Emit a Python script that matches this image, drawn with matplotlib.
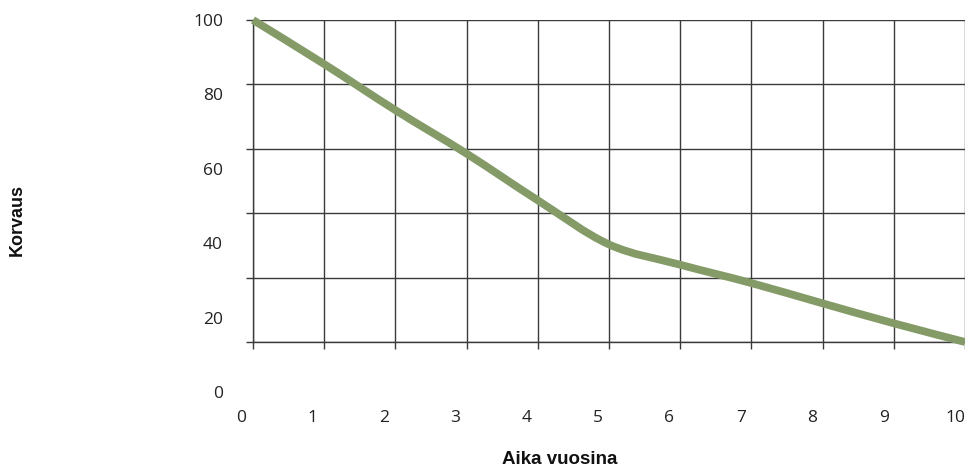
import matplotlib
matplotlib.use("Agg")
import matplotlib.pyplot as plt
from matplotlib.path import Path
from matplotlib.patches import PathPatch
import numpy as np

# ---- data ----
years = [0, 1, 2, 3, 4, 5, 6, 7, 8, 9, 10]
korvaus = [100, 86.3, 72, 58.5, 44, 30.3, 24, 18.3, 12, 5.8, 0]
x_ticklabels = ["0", "1", "2", "3", "4", "5", "6", "7", "8", "9", "10"]
y_ticklabels = ["0", "20", "40", "60", "80", "100"]
y_ticks = [0, 20, 40, 60, 80, 100]
x_title = "Aika vuosina"
y_title = "Korvaus"

W, H = 965, 467
fig = plt.figure(figsize=(W / 100, H / 100), dpi=100)

grid_col = "#3a3a3a"
line_col = "#849b68"

# main plot axes (grid + line)
ax = fig.add_axes([253 / W, 1 - 342 / H, 712 / W, 322 / H])
ax.set_xlim(0, 10)
ax.set_ylim(0, 100)
ax.set_xticks(years)
ax.set_yticks(y_ticks)
ax.set_xticklabels([])
ax.set_yticklabels([])
ax.grid(True, color=grid_col, lw=1.0)
ax.set_axisbelow(True)
for s in ["top", "right"]:
    ax.spines[s].set_visible(False)
for s in ["left", "bottom"]:
    ax.spines[s].set_color(grid_col)
    ax.spines[s].set_linewidth(1.0)
ax.tick_params(direction="out", length=5, width=1.0, color=grid_col)

# smoothed line (Excel-like), cubic Bezier segments through data points
xs = np.array(years, dtype=float)
ys = np.array(korvaus, dtype=float)
verts = [(xs[0], ys[0])]
codes = [Path.MOVETO]
n = len(xs)
for i in range(n - 1):
    p0 = (xs[i - 1], ys[i - 1]) if i > 0 else (xs[i], ys[i])
    p1 = (xs[i], ys[i])
    p2 = (xs[i + 1], ys[i + 1])
    p3 = (xs[i + 2], ys[i + 2]) if i + 2 < n else (xs[i + 1], ys[i + 1])
    c1 = (p1[0] + (p2[0] - p0[0]) / 6, p1[1] + (p2[1] - p0[1]) / 6)
    c2 = (p2[0] - (p3[0] - p1[0]) / 6, p2[1] - (p3[1] - p1[1]) / 6)
    verts += [c1, c2, p2]
    codes += [Path.CURVE4] * 3
patch = PathPatch(Path(verts, codes), facecolor="none", edgecolor=line_col,
                  lw=5.6, capstyle="butt", joinstyle="round",
                  transform=ax.transData, clip_on=False, zorder=5)
ax.add_patch(patch)

# label axes (offset tick labels as in the reference)
lab = fig.add_axes([241 / W, 1 - 392 / H, 714 / W, 372 / H])
lab.set_xlim(0, 10)
lab.set_ylim(0, 100)
lab.patch.set_visible(False)
for s in lab.spines.values():
    s.set_visible(False)
lab.set_xticks(years)
lab.set_xticklabels(x_ticklabels)
lab.set_yticks(y_ticks)
lab.set_yticklabels(y_ticklabels)
lab.tick_params(length=0, labelsize=12.5, colors="#222222")
lab.tick_params(axis="x", pad=13)
lab.tick_params(axis="y", pad=13)
for t in lab.get_xticklabels() + lab.get_yticklabels():
    t.set_fontfamily("Open Sans")

fig.text(17 / W, 1 - 220 / H, y_title, rotation=90, ha="center", va="center",
         fontsize=13, fontweight="bold", family="Liberation Sans", color="#111111")
fig.text(560 / W, 1 - 459 / H, x_title, ha="center", va="center",
         fontsize=13.5, fontweight="bold", family="Liberation Sans", color="#111111")

fig.savefig("out.png", dpi=100)
